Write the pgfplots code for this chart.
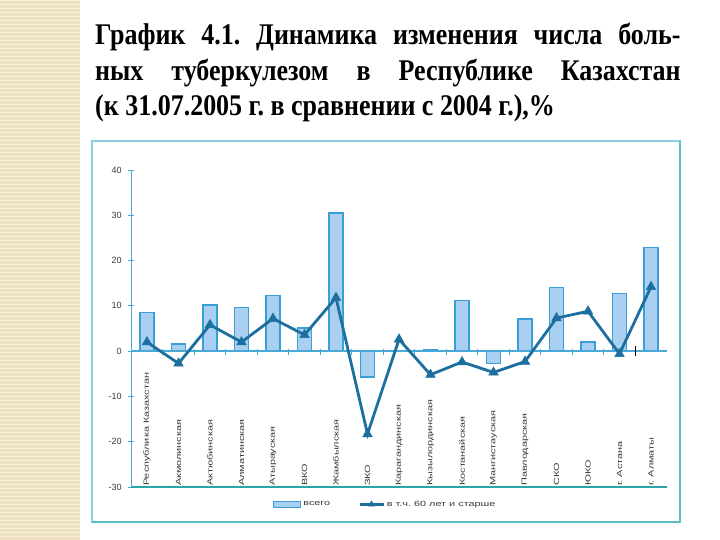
\documentclass[border=0pt]{standalone}
\usepackage{fontspec}
\usepackage{graphicx}
\usepackage{pgfplots}
\pgfplotsset{compat=1.18}
\setmainfont{Liberation Serif}
\newfontfamily\chartfont{Liberation Sans}
\frenchspacing

\definecolor{beige}{HTML}{EFE2C0}
\definecolor{stripe}{HTML}{F8F1DE}
\definecolor{framecol}{HTML}{8CCDE6}
\definecolor{framedark}{HTML}{5CBDC4}
\definecolor{barfill}{HTML}{A9D0F0}
\definecolor{bardraw}{HTML}{3A9FD6}
\definecolor{linecol}{HTML}{1C6F9E}
\definecolor{axisblue}{HTML}{4AA8D8}
\definecolor{axisteal}{HTML}{2BA6A8}
\definecolor{labgray}{HTML}{3A3A3A}

\newcommand\wide[1]{\scalebox{1.45}[1]{#1}}
\newcommand\titleline[1]{\scalebox{0.866}[1]{#1}}

\begin{document}
\begin{tikzpicture}
\useasboundingbox (0,0) rectangle (720pt,-540pt);
\fill[white] (0,0) rectangle (720pt,-540pt);

% decorative strip on the left
\fill[beige] (0,0) rectangle (80pt,-540pt);
\foreach \i in {0,...,134}
  \fill[stripe] (0,-\i*4pt) rectangle (80pt,-\i*4pt-1.4pt);

% title
\begin{scope}[every node/.style={anchor=base west, inner sep=0pt, font=\fontsize{30}{33}\selectfont\bfseries}]
\node at (95pt,-45pt) {\titleline{\makebox[676pt][s]{График 4.1. Динамика изменения числа боль-}}};
\node at (95pt,-81pt) {\titleline{\makebox[676pt][s]{ных туберкулезом в Республике Казахстан}}};
\node at (95pt,-116pt) {\titleline{(к 31.07.2005 г. в сравнении с 2004 г.),\%}};
\end{scope}

% chart frame
\draw[framecol, line width=2.5pt] (92pt,-141pt) rectangle (680pt,-522pt);
\draw[framedark, line width=1.5pt] (680pt,-141pt) -- (680pt,-522pt) -- (92pt,-522pt);

\begin{axis}[
    at={(131.25pt,-487pt)}, anchor=south west,
    scale only axis,
    width=535.5pt, height=317pt,
    xmin=-0.5, xmax=16.5,
    ymin=-30, ymax=40,
    axis x line*=bottom,
    axis y line*=left,
    x axis line style={axisteal, line width=2pt},
    y axis line style={axisblue, line width=1.5pt},
    ytick={-30,-20,...,40},
    tick align=center,
    major tick length=6pt,
    ytick style={axisblue, line width=1pt},
    xtick style={draw=none},
    yticklabel style={font=\chartfont\fontsize{9}{9}\selectfont, text=labgray, xshift=-3pt},
    /pgf/number format/assume math mode=true,
    xtick={0,...,16},
    xticklabels={
      {\wide{Республика Казахстан}},{\wide{Акмолинская}},{\wide{Актюбинская}},
      {\wide{Алматинская}},{\wide{Атырауская}},{\wide{ВКО}},{\wide{Жамбылская}},
      {\wide{ЗКО}},{\wide{Карагандинская}},{\wide{Кызылординская}},
      {\wide{Костанайская}},{\wide{Мангистауская}},{\wide{Павлодарская}},
      {\wide{СКО}},{\wide{ЮКО}},{\wide{г. Астана}},{\wide{г. Алматы}}},
    xticklabel style={font=\chartfont\fontsize{7.5}{7.5}\selectfont, text=labgray,
      rotate=90, anchor=west, inner sep=4pt},
    legend columns=2,
    legend style={at={(axis description cs:0.265,-0.055)}, anchor=west,
      draw=none, fill=none, inner sep=0pt,
      font=\chartfont\fontsize{7.5}{7.5}\selectfont, text=labgray,
      /tikz/every even column/.append style={column sep=26pt}},
    clip=false,
]
\addplot[ybar, bar width=14pt, fill=barfill, draw=bardraw, line width=1.2pt,
  legend image code/.code={\draw[fill=barfill, draw=bardraw, line width=1pt] (0pt,-3pt) rectangle (27pt,3pt);}]
  coordinates {
    (0,8.5) (1,1.6) (2,10.2) (3,9.6) (4,12.2) (5,5.1) (6,30.5) (7,-5.7)
    (8,0) (9,0.3) (10,11.1) (11,-2.8) (12,7.1) (13,14.1) (14,2.0) (15,12.7) (16,22.9)
  };
\addlegendentry{\wide{всего}}

% zero line with ticks between categories
\draw[axisblue, line width=1.5pt] (axis cs:-0.5,0) -- (axis cs:16.5,0);
\pgfplotsinvokeforeach{0.5,1.5,2.5,3.5,4.5,5.5,6.5,7.5,8.5,9.5,10.5,11.5,12.5,13.5,14.5}{
  \draw[axisblue, line width=1pt] ([yshift=2pt]axis cs:#1,0) -- ([yshift=-4pt]axis cs:#1,0);
}
\draw[black, line width=1.2pt] ([yshift=5pt]axis cs:15.5,0) -- ([yshift=-5pt]axis cs:15.5,0);

\addplot[linecol, line width=2.8pt, mark=triangle*, mark size=5.5pt,
  mark options={solid, line width=0.5pt},
  legend image code/.code={\draw[linecol, line width=2.5pt, mark=triangle*, mark size=3.5pt, mark repeat=2, mark phase=2] plot coordinates {(0pt,0pt) (12pt,0pt) (24pt,0pt)};}]
  coordinates {
    (0,2.0) (1,-2.7) (2,5.8) (3,2.0) (4,7.2) (5,3.6) (6,11.8) (7,-18.3)
    (8,2.6) (9,-5.2) (10,-2.4) (11,-4.7) (12,-2.3) (13,7.3) (14,8.8) (15,-0.6) (16,14.2)
  };
\addlegendentry{\wide{в т.ч. 60 лет и старше}}
\end{axis}
\end{tikzpicture}
\end{document}
